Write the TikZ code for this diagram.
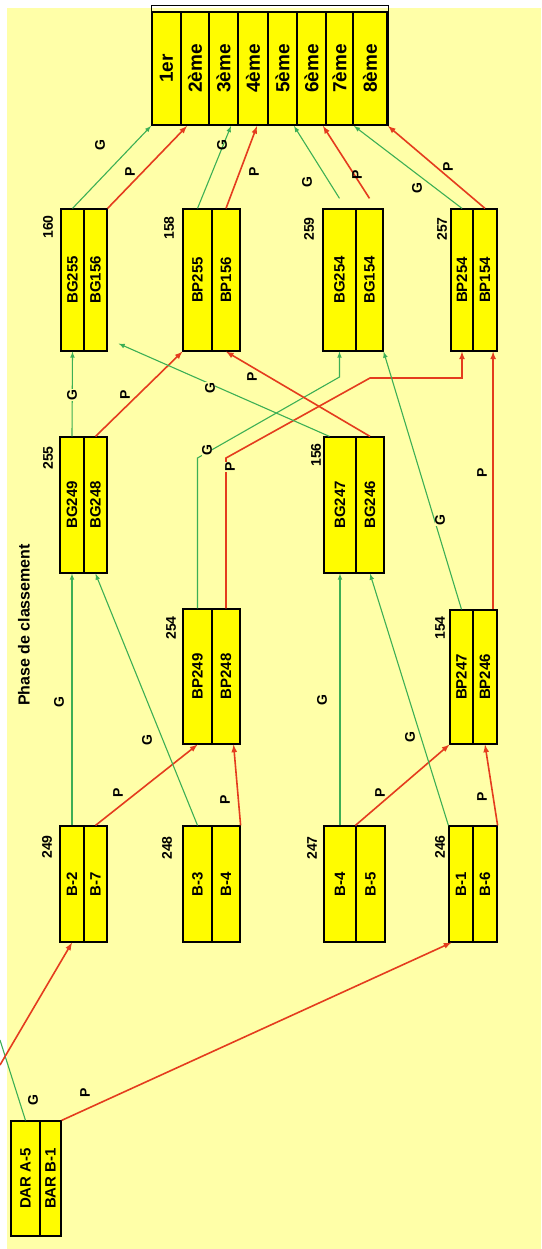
\documentclass[tikz,border=0pt]{standalone}
\usepackage{fontspec}
\setmainfont{Liberation Sans}
\usepackage{graphicx}

\definecolor{fond}{RGB}{255,255,168}
\definecolor{jaune}{RGB}{255,252,0}
\definecolor{vert}{RGB}{60,175,85}
\definecolor{rouge}{RGB}{228,60,30}

% colonne d'une boite : [style]{nom}{x1}{x2}{y1}{y2}{texte}
\newcommand{\colonne}[7][col]{\node[#1, minimum width={(#4-#3)*1pt}, minimum height={(#6-#5)*1pt}] (#2) at ({(#3+#4)/2},{(#5+#6)/2}) {\rotatebox{90}{#7}};}

\begin{document}
\begin{tikzpicture}[x=1pt,y=-1pt,
  col/.style={draw, line width=1.2pt, fill=jaune, inner sep=0pt, font=\bfseries\fontsize{15}{15}\selectfont},
  rang/.style={col, line width=2pt, font=\bfseries\fontsize{19}{19}\selectfont},
  num/.style={rotate=90, inner sep=0pt, font=\bfseries\fontsize{14}{14}\selectfont},
  lab/.style={rotate=90, inner sep=0.5pt, text=black, font=\bfseries\fontsize{14}{14}\selectfont},
  gagne/.style={vert, line width=1.1pt, -latex},
  perd/.style={rouge, line width=1.6pt, -latex}]

\useasboundingbox (0,0) rectangle (541,1249);
\fill[white] (0,0) rectangle (541,1249);
\fill[fond] (7,8) rectangle (541,1249);

\node[lab, font=\bfseries\fontsize{16}{16}\selectfont] (titre) at (24,625) {Phase de classement};

% classement final
\colonne[rang]{rang1}{152}{181}{12}{125}{1er}
\colonne[rang]{rang2}{181}{209}{12}{125}{2ème}
\colonne[rang]{rang3}{209}{238}{12}{125}{3ème}
\colonne[rang]{rang4}{238}{268}{12}{125}{4ème}
\colonne[rang]{rang5}{268}{297}{12}{125}{5ème}
\colonne[rang]{rang6}{297}{326}{12}{125}{6ème}
\colonne[rang]{rang7}{326}{353}{12}{125}{7ème}
\colonne[rang]{rang8}{353}{387}{12}{125}{8ème}
\draw[line width=1pt] ([yshift=5pt]rang1.north west) rectangle (rang8.south east);

% tour 3
\colonne{g160a}{61}{84}{209}{351}{BG255}
\colonne{g160b}{84}{107}{209}{351}{BG156}
\colonne{p158a}{183}{212}{209}{351}{BP255}
\colonne{p158b}{212}{240}{209}{351}{BP156}
\colonne{g259a}{323}{356}{209}{351}{BG254}
\colonne{g259b}{356}{383}{209}{351}{BG154}
\colonne{p257a}{451}{473}{209}{351}{BP254}
\colonne{p257b}{473}{497}{209}{351}{BP154}
\node[num] (n160) at (48,227) {160};
\node[num] (n158) at (169,228) {158};
\node[num] (n259) at (309,229) {259};
\node[num] (n257) at (442,229) {257};

% tour 2
\colonne{g255a}{60}{84}{437}{573}{BG249}
\colonne{g255b}{84}{107}{437}{573}{BG248}
\colonne{p254a}{183}{212}{609}{744}{BP249}
\colonne{p254b}{212}{240}{609}{744}{BP248}
\colonne{g156a}{324}{356}{437}{573}{BG247}
\colonne{g156b}{356}{384}{437}{573}{BG246}
\colonne{p154a}{450}{473}{610}{744}{BP247}
\colonne{p154b}{473}{497}{610}{744}{BP246}
\node[num] (n255) at (48,458) {255};
\node[num] (n254) at (171,628) {254};
\node[num] (n156) at (316,455) {156};
\node[num] (n154) at (440,628) {154};

% tour 1
\colonne{b249a}{60}{84}{826}{942}{B-2}
\colonne{b249b}{84}{107}{826}{942}{B-7}
\colonne{b248a}{183}{212}{826}{942}{B-3}
\colonne{b248b}{212}{240}{826}{942}{B-4}
\colonne{b247a}{324}{356}{826}{942}{B-4}
\colonne{b247b}{356}{385}{826}{942}{B-5}
\colonne{b246a}{449}{473}{826}{942}{B-1}
\colonne{b246b}{473}{497}{826}{942}{B-6}
\node[num] (n249) at (47,847) {249};
\node[num] (n248) at (167,848) {248};
\node[num] (n247) at (312,848) {247};
\node[num] (n246) at (440,847) {246};

% barrage
\colonne{bar1}{11}{40}{1121}{1236}{DAR A-5}
\colonne{bar2}{40}{61}{1121}{1236}{BAR B-1}
\coordinate (sortieG) at (0,1040);
\coordinate (entreeP) at (0,1065);

% liaisons barrage
\draw[gagne,-] (bar1.north) -- (sortieG) node[lab] at (33,1100) {G};
\draw[perd] (entreeP) -- (b249a.south);
\draw[perd] (bar2.north east) -- ([xshift=3pt]b246a.south west) node[lab] at (85,1093) {P};

% tour 1 -> tour 2
\draw[gagne] (b249a.north) -- (g255a.south) node[lab] at (59,702) {G};
\draw[perd] (b249b.north) -- (p254a.south) node[lab] at (118,793) {P};
\draw[gagne] (b248a.north) -- (g255b.south) node[lab] at (147,740) {G};
\draw[perd] (b248b.north east) -- ([xshift=-7pt]p254b.south east) node[lab] at (225,800) {P};
\draw[gagne] (b247a.north) -- (g156a.south) node[lab] at (322,700) {G};
\draw[perd] (b247b.north west) -- (p154a.south west) node[lab] at (380,793) {P};
\draw[gagne] (b246a.north west) -- (g156b.south) node[lab] at (410,737) {G};
\draw[perd] (b246b.north east) -- (p154b.south) node[lab] at (482,797) {P};

% tour 2 -> tour 3
\draw[gagne] (g255a.north) -- (g160a.south) node[lab, fill=fond] at (72,395) {G};
\draw[perd] (g255b.north) -- (p158a.south west) node[lab] at (125,395) {P};
\draw[gagne] (p254a.north) -- (p254a.north |- 0,458) -- (g259a.south |- 0,377) -- (g259a.south) node[lab, fill=fond] at (207,450) {G};
\draw[perd] (p254b.north) -- (p254b.north |- 0,458) -- (370,378) -- (p257a.south |- 0,378) -- (p257a.south) node[lab, fill=fond] at (230,467) {P};
\draw[gagne] ([xshift=6pt]g156a.north west) -- ([xshift=11pt,yshift=8pt]g160b.south east) node[lab, fill=fond] at (210,388) {G};
\draw[perd] (g156b.north) -- (p158b.south) node[lab] at (252,377) {P};
\draw[gagne] (p154a.north) -- (g259b.south east) node[lab, fill=fond] at (440,520) {G};
\draw[perd] ([xshift=-4.5pt]p154b.north east) -- ([xshift=-4.5pt]p257b.south east) node[lab] at (482,473) {P};

% tour 3 -> classement
\draw[gagne] (g160a.north) -- (rang1.south west) node[lab] at (100,145) {G};
\draw[perd] (g160b.north east) -- ([xshift=-8pt]rang2.south) node[lab] at (130,172) {P};
\draw[gagne] (p158a.north) -- ([xshift=-8pt]rang3.south east) node[lab] at (222,145) {G};
\draw[perd] (p158b.north) -- ([xshift=4pt]rang4.south) node[lab] at (254,172) {P};
\draw[gagne] ([yshift=10pt]g259a.north) -- ([xshift=-4pt]rang5.south east) node[lab] at (307,182) {G};
\draw[perd] ([yshift=10pt]g259b.north) -- ([xshift=-4pt]rang6.south east) node[lab] at (357,175) {P};
\draw[gagne] (p257a.north) -- (rang7.south east) node[lab] at (417,188) {G};
\draw[perd] (p257b.north) -- (rang8.south east) node[lab] at (448,167) {P};
\end{tikzpicture}
\end{document}
